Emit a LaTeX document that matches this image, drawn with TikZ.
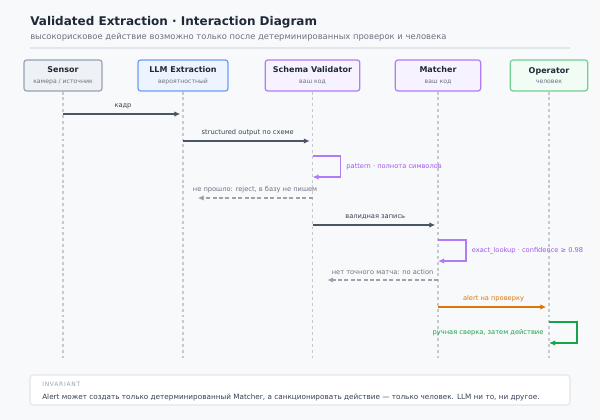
\documentclass[tikz,border=0pt]{standalone}
\usepackage{fontspec}
\setmainfont{DejaVu Sans}
\usepackage{xcolor}
\usetikzlibrary{arrows.meta,positioning}
\definecolor{SeqBack}{HTML}{F8F9FB}
\definecolor{SeqInk}{HTML}{1F2937}
\definecolor{SeqText}{HTML}{374151}
\definecolor{SeqMuted}{HTML}{6B7280}
\definecolor{SeqRule}{HTML}{E2E5EA}
\definecolor{SeqLife}{HTML}{C5CAD2}
\definecolor{SeqLine}{HTML}{4B5563}
\definecolor{SeqGray}{HTML}{9CA3AF}
\definecolor{SlateFill}{HTML}{EEF1F5}
\definecolor{SlateLine}{HTML}{98A2B3}
\definecolor{BlueFill}{HTML}{EEF4FF}
\definecolor{BlueLine}{HTML}{6B9CF2}
\definecolor{VioFill}{HTML}{F7F2FF}
\definecolor{VioLine}{HTML}{B07CF5}
\definecolor{VioInk}{HTML}{A155F0}
\definecolor{GreenFill}{HTML}{F0FCF4}
\definecolor{GreenLine}{HTML}{6FD092}
\definecolor{GreenInk}{HTML}{16A34A}
\definecolor{OrangeInk}{HTML}{D97706}
\newcommand{\boxname}[2]{{\bfseries\color{SeqInk}#1}\\{\fontsize{4.6}{8}\selectfont\color{SeqMuted}#2}}
\tikzset{
  actor/.style={draw, rounded corners=2pt, line width=0.9pt, align=center,
                minimum height=23.25pt, inner sep=1pt, font=\fontsize{6}{8}\selectfont},
  lifeline/.style={draw=SeqLife, line width=0.9pt, dash pattern=on 2.2pt off 2.2pt},
  msg/.style={-{Latex[length=4.5pt,width=4pt]}, line width=0.9pt, draw=SeqLine, shorten >=2pt},
  reply/.style={-{Latex[length=4.5pt,width=4pt]}, line width=0.9pt, draw=SeqGray, dash pattern=on 3pt off 1.8pt},
  selfloop/.style={-{Latex[length=4.5pt,width=4pt]}, line width=0.9pt},
  msglabel/.style={font=\fontsize{5}{6}\selectfont, text=SeqText, inner sep=1pt}
}
\begin{document}
\begin{tikzpicture}[x=0.75pt, y=-0.75pt]
  \fill[SeqBack] (0,0) rectangle (600,420);
  \useasboundingbox (0,0) rectangle (600,420);
  \node[anchor=base west, inner sep=0pt, font=\fontsize{9}{11}\bfseries, text=SeqInk] (title) at (30,26) {Validated Extraction · Interaction Diagram};
  \node[anchor=base west, inner sep=0pt, font=\fontsize{6.3}{7}\selectfont, text=SeqMuted] (subtitle) at (30,40) {высокорисковое действие возможно только после детерминированных проверок и человека};
  \draw[SeqRule, line width=0.8pt] (30,48) -- (570,48);
  \node[actor, fill=SlateFill, draw=SlateLine, minimum width=58.5pt] (sensor) at (63,75.5) {\boxname{Sensor}{камера / источник}};
  \node[actor, fill=BlueFill, draw=BlueLine, minimum width=67.5pt] (llm) at (183,75.5) {\boxname{LLM Extraction}{вероятностный}};
  \node[actor, fill=VioFill, draw=VioLine, minimum width=71pt] (schema) at (312.5,75.5) {\boxname{Schema Validator}{ваш код}};
  \node[actor, fill=VioFill, draw=VioLine, minimum width=64pt] (matcher) at (438,75.5) {\boxname{Matcher}{ваш код}};
  \node[actor, fill=GreenFill, draw=GreenLine, minimum width=58pt] (operator) at (549,75.5) {\boxname{Operator}{человек}};
  \foreach \who in {sensor,llm,schema,matcher,operator}
    \draw[lifeline] (\who.south) -- (\who |- 0,358);
  \draw[msg] (sensor |- 0,114) -- (llm |- 0,114) node[msglabel, midway, above=2.5pt] {кадр};
  \draw[msg] (llm |- 0,141) -- (schema |- 0,141) node[msglabel, midway, above=2.5pt] {structured output по схеме};
  \draw[selfloop, draw=VioLine] (schema |- 0,156) -- ++(28,0) -- ++(0,21)
    node[msglabel, midway, right=3pt, text=VioInk] {pattern · полнота символов} -- (schema |- 0,177);
  \draw[reply] (schema |- 0,198) -- ([xshift=11pt]llm |- 0,198) node[msglabel, midway, above=2.5pt, text=SeqMuted] {не прошло: reject, в базу не пишем};
  \draw[msg] (schema |- 0,225) -- (matcher |- 0,225) node[msglabel, midway, above=2.5pt] {валидная запись};
  \draw[selfloop, draw=VioLine] (matcher |- 0,240) -- ++(28,0) -- ++(0,21)
    node[msglabel, midway, right=3pt, text=VioInk] {exact\_lookup · confidence ≥ 0.98} -- (matcher |- 0,261);
  \draw[reply] (matcher |- 0,280) -- ([xshift=11pt]schema |- 0,280) node[msglabel, midway, above=2.5pt, text=SeqMuted] {нет точного матча: no action};
  \draw[msg, draw=OrangeInk] (matcher |- 0,307) -- (operator |- 0,307) node[msglabel, midway, above=2.5pt, text=OrangeInk] {alert на проверку};
  \draw[selfloop, draw=GreenInk] (operator |- 0,322) -- ++(28,0) -- ++(0,21) -- (operator |- 0,343);
  \node[msglabel, anchor=east, text=GreenInk] (manual) at ([xshift=-3pt]operator |- 0,333) {ручная сверка, затем действие};
  \node[draw=SeqRule, fill=white, rounded corners=2.5pt, line width=0.8pt, minimum width=405pt, minimum height=22.5pt] (invbox) at (300,390) {};
  \node[anchor=base west, inner sep=0pt, font=\fontsize{4.5}{5}\selectfont\addfontfeature{LetterSpace=12}, text=SeqGray] (invtitle) at (42,387) {INVARIANT};
  \node[anchor=base west, inner sep=0pt, font=\fontsize{5.45}{7}\selectfont, text=SeqText] (invtext) at (42,399) {Alert может создать только детерминированный Matcher, а санкционировать действие — только человек. LLM ни то, ни другое.};
\end{tikzpicture}
\end{document}
